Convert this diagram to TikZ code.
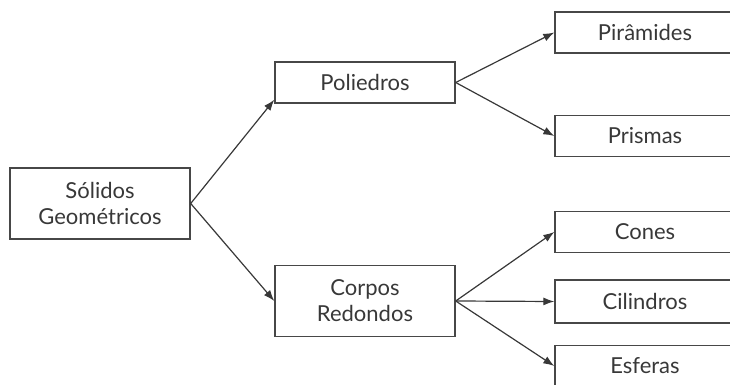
\documentclass[tikz,border=0pt]{standalone}
\usepackage{fontspec}
\setmainfont{Lato}
\usepackage{tikz}
\usetikzlibrary{arrows.meta}

\begin{document}
\begin{tikzpicture}[x=1pt, y=1pt, auto,
        every node/.style={font=\fontsize{22}{26}\selectfont, text=black!78}]
        \tikzstyle{boxStyle} = [rectangle, draw=black!72, line width=1.4pt,
                minimum width=180pt, minimum height=41pt, inner sep=2pt,
                align=center]
        \tikzstyle{grayEdge} = [draw=black!78, line width=1.2pt,
                -{Latex[length=11pt,width=8pt]}]
        \useasboundingbox (0,0) rectangle (730,385);
        \clip (0,0) rectangle (730,385);
        \node[boxStyle, minimum height=71pt] (solidos) at (100,181.5) {Sólidos\\Geométricos};
        \node[boxStyle] (poliedros) at (365,302.5) {Poliedros};
        \node[boxStyle, minimum height=71pt] (corpos) at (365,84) {Corpos\\Redondos};
        \node[boxStyle] (piramides) at (645,352.5) {Pirâmides};
        \node[boxStyle] (prismas) at (645,249) {Prismas};
        \node[boxStyle] (cones) at (645,153) {Cones};
        \node[boxStyle, minimum height=43pt] (cilindros) at (645,83.5) {Cilindros};
        \node[boxStyle] (esferas) at (645,19) {Esferas};
        \draw[grayEdge] (solidos.east) -- ([yshift=4pt]poliedros.south west);
        \draw[grayEdge] (solidos.east) -- (corpos.west);
        \foreach \to in {piramides, prismas}
            \draw[grayEdge] (poliedros.east) -- (\to.west);
        \foreach \to in {cones, cilindros, esferas}
            \draw[grayEdge] (corpos.east) -- (\to.west);
    \end{tikzpicture}
\end{document}
